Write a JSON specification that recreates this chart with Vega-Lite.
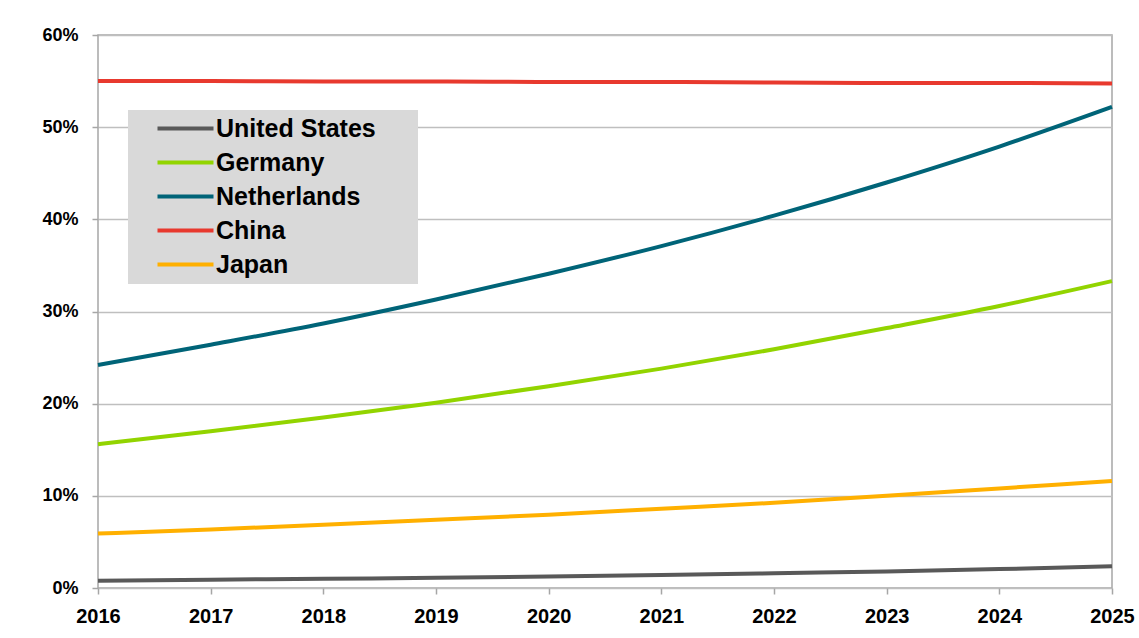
{
  "$schema": "https://vega.github.io/schema/vega-lite/v6.json",
  "width": 1014,
  "height": 553,
  "autosize": {"type": "none"},
  "padding": {"left": 98, "top": 35, "right": 27, "bottom": 50},
  "background": "white",
  "config": {
    "view": {"stroke": "#A6A6A6", "strokeWidth": 1.5},
    "font": "Liberation Sans"
  },
  "data": {
    "values": [
      {"year": 2016, "country": "United States", "value": 0.8},
      {"year": 2017, "country": "United States", "value": 0.9},
      {"year": 2018, "country": "United States", "value": 1.0},
      {"year": 2019, "country": "United States", "value": 1.1},
      {"year": 2020, "country": "United States", "value": 1.25},
      {"year": 2021, "country": "United States", "value": 1.4},
      {"year": 2022, "country": "United States", "value": 1.6},
      {"year": 2023, "country": "United States", "value": 1.8},
      {"year": 2024, "country": "United States", "value": 2.05},
      {"year": 2025, "country": "United States", "value": 2.35},
      {"year": 2016, "country": "Germany", "value": 15.6},
      {"year": 2017, "country": "Germany", "value": 17.0},
      {"year": 2018, "country": "Germany", "value": 18.5},
      {"year": 2019, "country": "Germany", "value": 20.1},
      {"year": 2020, "country": "Germany", "value": 21.9},
      {"year": 2021, "country": "Germany", "value": 23.8},
      {"year": 2022, "country": "Germany", "value": 25.9},
      {"year": 2023, "country": "Germany", "value": 28.2},
      {"year": 2024, "country": "Germany", "value": 30.6},
      {"year": 2025, "country": "Germany", "value": 33.3},
      {"year": 2016, "country": "Netherlands", "value": 24.2},
      {"year": 2017, "country": "Netherlands", "value": 26.4},
      {"year": 2018, "country": "Netherlands", "value": 28.7},
      {"year": 2019, "country": "Netherlands", "value": 31.3},
      {"year": 2020, "country": "Netherlands", "value": 34.1},
      {"year": 2021, "country": "Netherlands", "value": 37.1},
      {"year": 2022, "country": "Netherlands", "value": 40.4},
      {"year": 2023, "country": "Netherlands", "value": 44.0},
      {"year": 2024, "country": "Netherlands", "value": 47.9},
      {"year": 2025, "country": "Netherlands", "value": 52.2},
      {"year": 2016, "country": "China", "value": 55.0},
      {"year": 2017, "country": "China", "value": 55.0},
      {"year": 2018, "country": "China", "value": 54.95},
      {"year": 2019, "country": "China", "value": 54.95},
      {"year": 2020, "country": "China", "value": 54.9},
      {"year": 2021, "country": "China", "value": 54.9},
      {"year": 2022, "country": "China", "value": 54.85},
      {"year": 2023, "country": "China", "value": 54.8},
      {"year": 2024, "country": "China", "value": 54.8},
      {"year": 2025, "country": "China", "value": 54.75},
      {"year": 2016, "country": "Japan", "value": 5.9},
      {"year": 2017, "country": "Japan", "value": 6.35},
      {"year": 2018, "country": "Japan", "value": 6.85},
      {"year": 2019, "country": "Japan", "value": 7.4},
      {"year": 2020, "country": "Japan", "value": 7.95},
      {"year": 2021, "country": "Japan", "value": 8.6},
      {"year": 2022, "country": "Japan", "value": 9.25},
      {"year": 2023, "country": "Japan", "value": 10.0},
      {"year": 2024, "country": "Japan", "value": 10.8},
      {"year": 2025, "country": "Japan", "value": 11.6}
    ]
  },
  "mark": {"type": "line", "strokeWidth": 4, "interpolate": "monotone"},
  "encoding": {
    "x": {
      "field": "year",
      "type": "quantitative",
      "scale": {"domain": [2016, 2025], "nice": false, "zero": false},
      "axis": {
        "title": null,
        "values": [2016, 2017, 2018, 2019, 2020, 2021, 2022, 2023, 2024, 2025],
        "format": "d",
        "grid": false,
        "domain": false,
        "ticks": true,
        "tickColor": "#A6A6A6",
        "tickSize": 6,
        "tickWidth": 1.5,
        "labelFont": "Liberation Sans",
        "labelFontSize": 20,
        "labelFontWeight": "bold",
        "labelColor": "#000000",
        "labelPadding": 12,
        "labelFlush": false
      }
    },
    "y": {
      "field": "value",
      "type": "quantitative",
      "scale": {"domain": [0, 60], "nice": false},
      "axis": {
        "title": null,
        "values": [0, 10, 20, 30, 40, 50, 60],
        "labelExpr": "datum.value + '%'",
        "grid": true,
        "gridColor": "#BFBFBF",
        "gridWidth": 1.5,
        "domain": false,
        "tickColor": "#A6A6A6",
        "tickSize": 6,
        "tickWidth": 1.5,
        "labelFont": "Liberation Sans",
        "labelFontSize": 18,
        "labelFontWeight": "bold",
        "labelColor": "#000000",
        "labelPadding": 14
      }
    },
    "color": {
      "field": "country",
      "type": "nominal",
      "scale": {
        "domain": ["United States", "Germany", "Netherlands", "China", "Japan"],
        "range": ["#595959", "#92D400", "#006478", "#E8392E", "#FFB000"]
      },
      "legend": {
        "title": null,
        "orient": "none",
        "legendX": 30,
        "legendY": 75,
        "fillColor": "#D9D9D9",
        "strokeColor": null,
        "padding": 6,
        "symbolType": "M-2.8,0H2.8",
        "symbolSize": 400,
        "symbolStrokeWidth": 4,
        "symbolOffset": 39,
        "labelOffset": 18,
        "labelFont": "Liberation Sans",
        "labelFontSize": 25,
        "labelFontWeight": "bold",
        "labelColor": "#000000",
        "labelLimit": 400,
        "rowPadding": 8,
        "labelExpr": "datum.label + '\u2800\u2800'"
      }
    }
  }
}
